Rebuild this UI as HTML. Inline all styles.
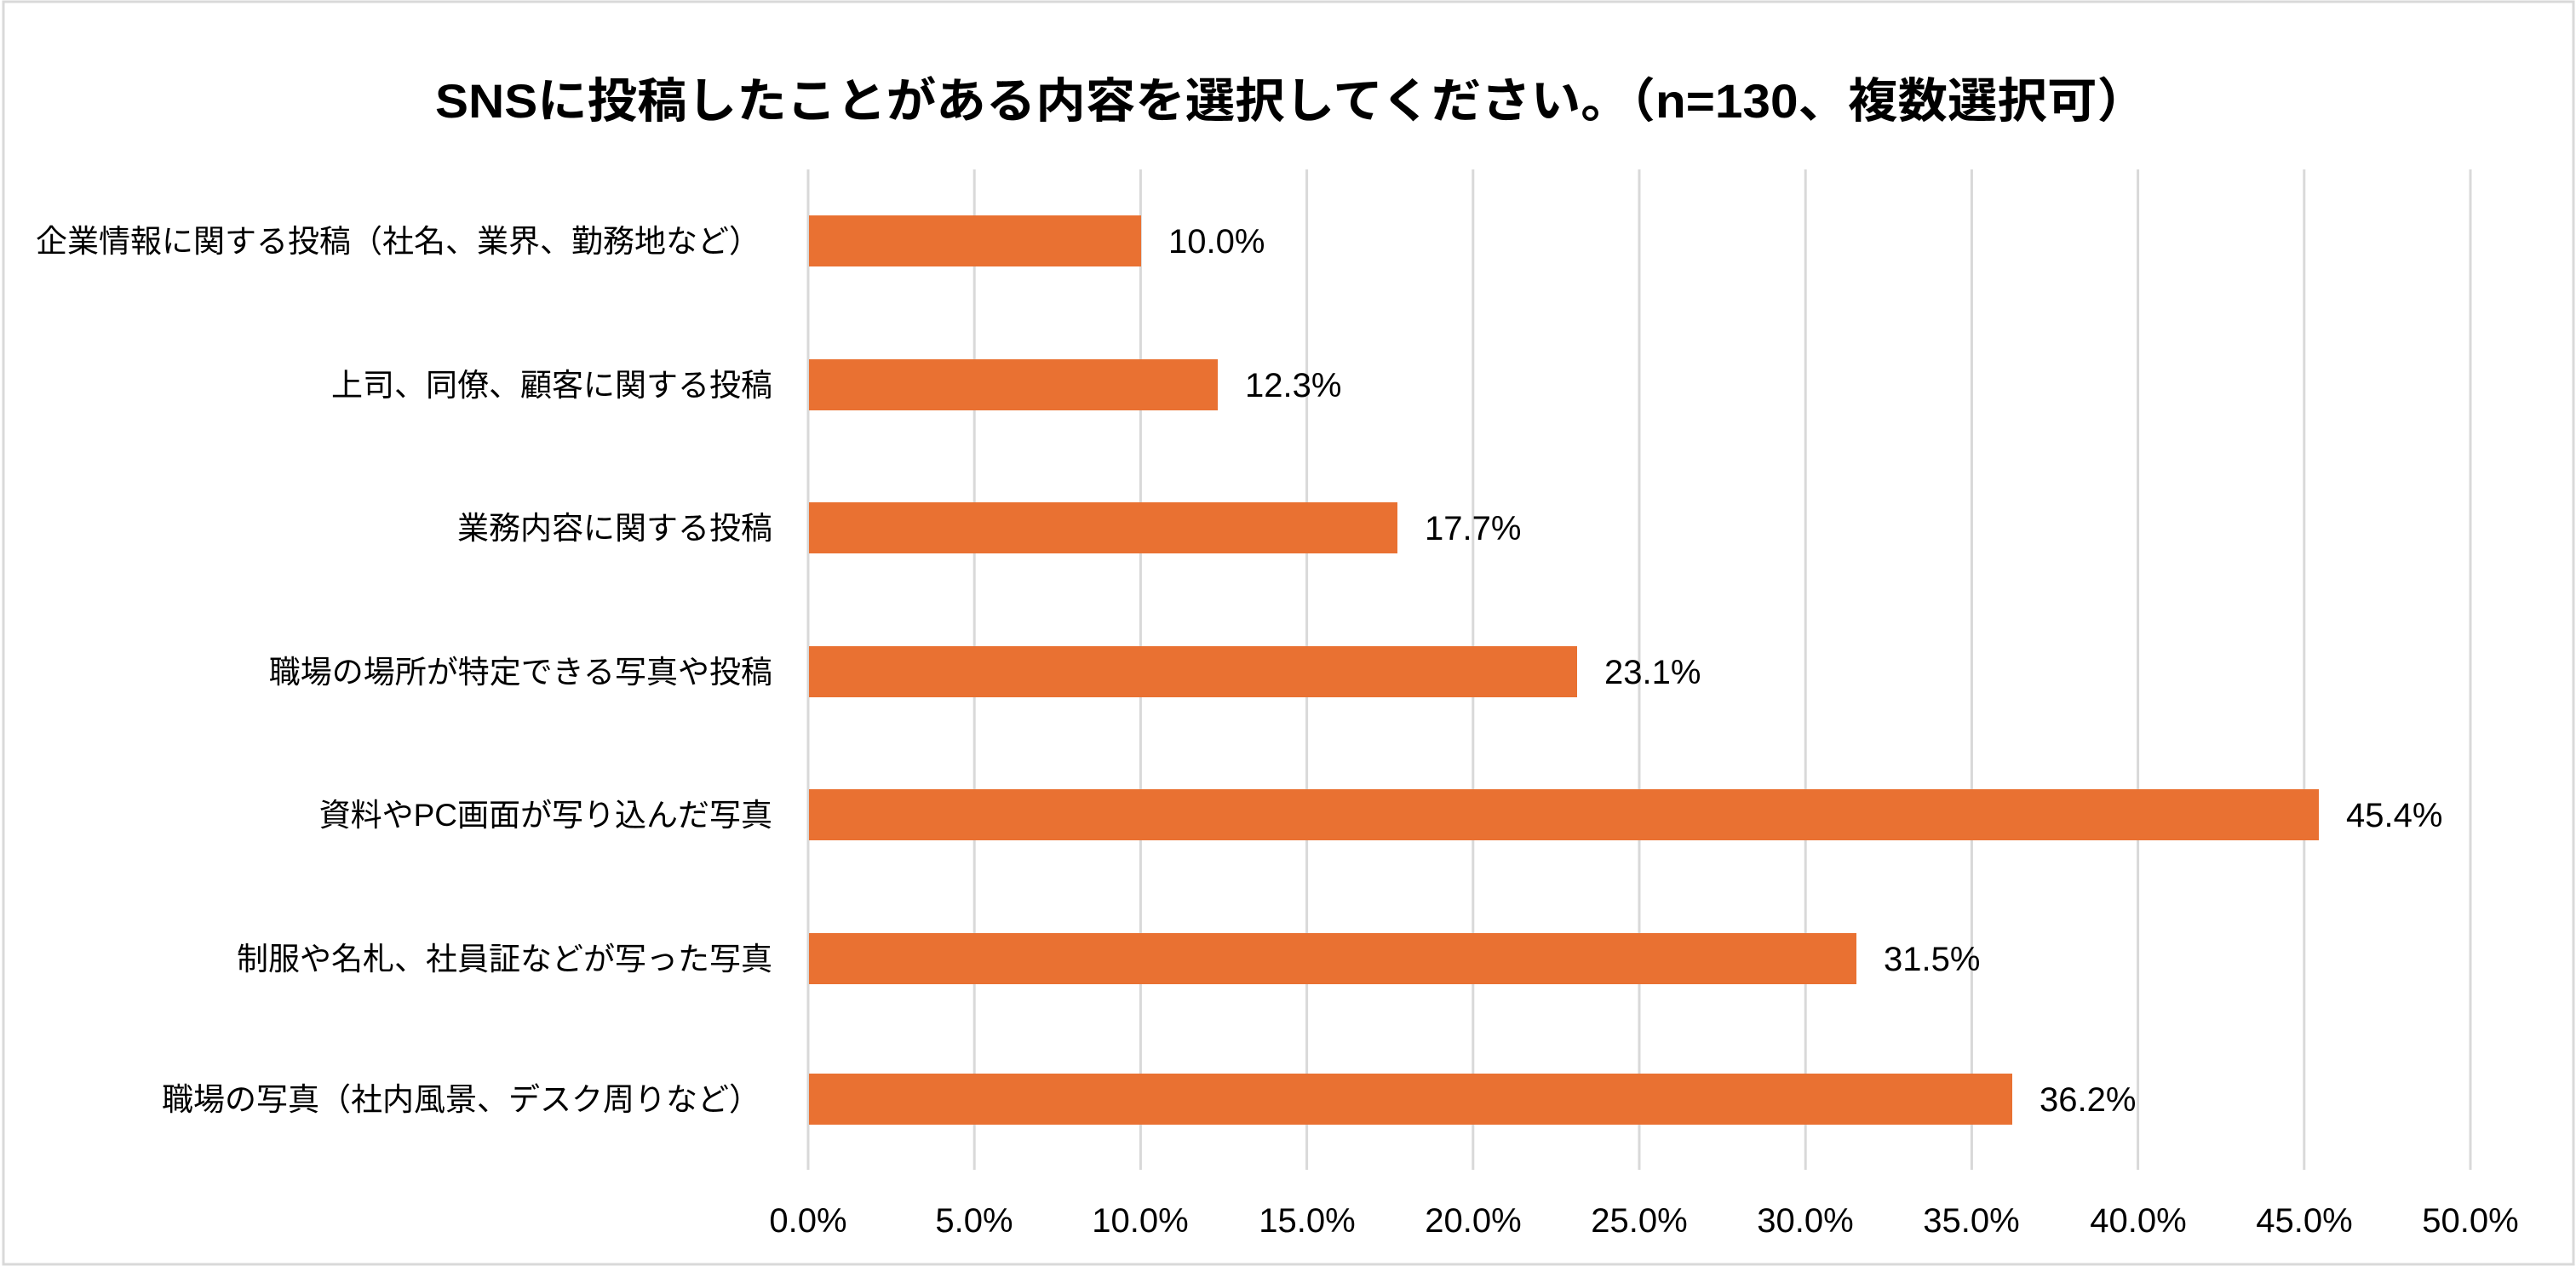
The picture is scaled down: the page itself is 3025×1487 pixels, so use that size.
<!DOCTYPE html>
<html><head><meta charset="utf-8"><style>
html,body{margin:0;padding:0;background:#fff;}
svg{display:block;}
text{font-family:"Liberation Sans","Noto Sans CJK JP",sans-serif;fill:#000;}
</style></head><body>
<svg width="3025" height="1487" viewBox="0 0 3025 1487" xmlns="http://www.w3.org/2000/svg">
<rect x="4" y="2" width="3018" height="1483" fill="#fff" stroke="#d9d9d9" stroke-width="3"/>
<text x="1516" y="138" text-anchor="middle" font-size="56" font-weight="bold" textLength="2010" lengthAdjust="spacingAndGlyphs" style="font-family:'Liberation Sans','Noto Sans CJK JP',sans-serif">SNSに投稿したことがある内容を選択してください。（n=130、複数選択可）</text>
<g stroke="#d9d9d9" stroke-width="3">
<line x1="949" y1="199" x2="949" y2="1374"/>
<line x1="1144.2" y1="199" x2="1144.2" y2="1374"/>
<line x1="1339.4" y1="199" x2="1339.4" y2="1374"/>
<line x1="1534.6" y1="199" x2="1534.6" y2="1374"/>
<line x1="1729.8" y1="199" x2="1729.8" y2="1374"/>
<line x1="1925" y1="199" x2="1925" y2="1374"/>
<line x1="2120.2" y1="199" x2="2120.2" y2="1374"/>
<line x1="2315.4" y1="199" x2="2315.4" y2="1374"/>
<line x1="2510.6" y1="199" x2="2510.6" y2="1374"/>
<line x1="2705.8" y1="199" x2="2705.8" y2="1374"/>
<line x1="2901" y1="199" x2="2901" y2="1374"/>
</g>
<g fill="#E97132">
<rect x="950" y="253" width="390" height="60"/>
<rect x="950" y="422" width="480" height="60"/>
<rect x="950" y="590" width="691" height="60"/>
<rect x="950" y="759" width="902" height="60"/>
<rect x="950" y="927" width="1773" height="60"/>
<rect x="950" y="1096" width="1230" height="60"/>
<rect x="950" y="1261" width="1413" height="60"/>
</g>
<g font-size="40">
<text x="1372" y="297">10.0%</text>
<text x="1462" y="466">12.3%</text>
<text x="1673" y="634">17.7%</text>
<text x="1884" y="803">23.1%</text>
<text x="2755" y="971">45.4%</text>
<text x="2212" y="1140">31.5%</text>
<text x="2395" y="1305">36.2%</text>
</g>
<g font-size="37" text-anchor="end">
<text x="893" y="296">企業情報に関する投稿（社名、業界、勤務地など）</text>
<text x="907" y="465">上司、同僚、顧客に関する投稿</text>
<text x="907" y="633">業務内容に関する投稿</text>
<text x="907" y="802">職場の場所が特定できる写真や投稿</text>
<text x="907" y="970">資料やPC画面が写り込んだ写真</text>
<text x="907" y="1139">制服や名札、社員証などが写った写真</text>
<text x="893" y="1304">職場の写真（社内風景、デスク周りなど）</text>
</g>
<g font-size="40" text-anchor="middle">
<text x="949" y="1447">0.0%</text>
<text x="1144" y="1447">5.0%</text>
<text x="1339" y="1447">10.0%</text>
<text x="1535" y="1447">15.0%</text>
<text x="1730" y="1447">20.0%</text>
<text x="1925" y="1447">25.0%</text>
<text x="2120" y="1447">30.0%</text>
<text x="2315" y="1447">35.0%</text>
<text x="2511" y="1447">40.0%</text>
<text x="2706" y="1447">45.0%</text>
<text x="2901" y="1447">50.0%</text>
</g>
</svg>
</body></html>
